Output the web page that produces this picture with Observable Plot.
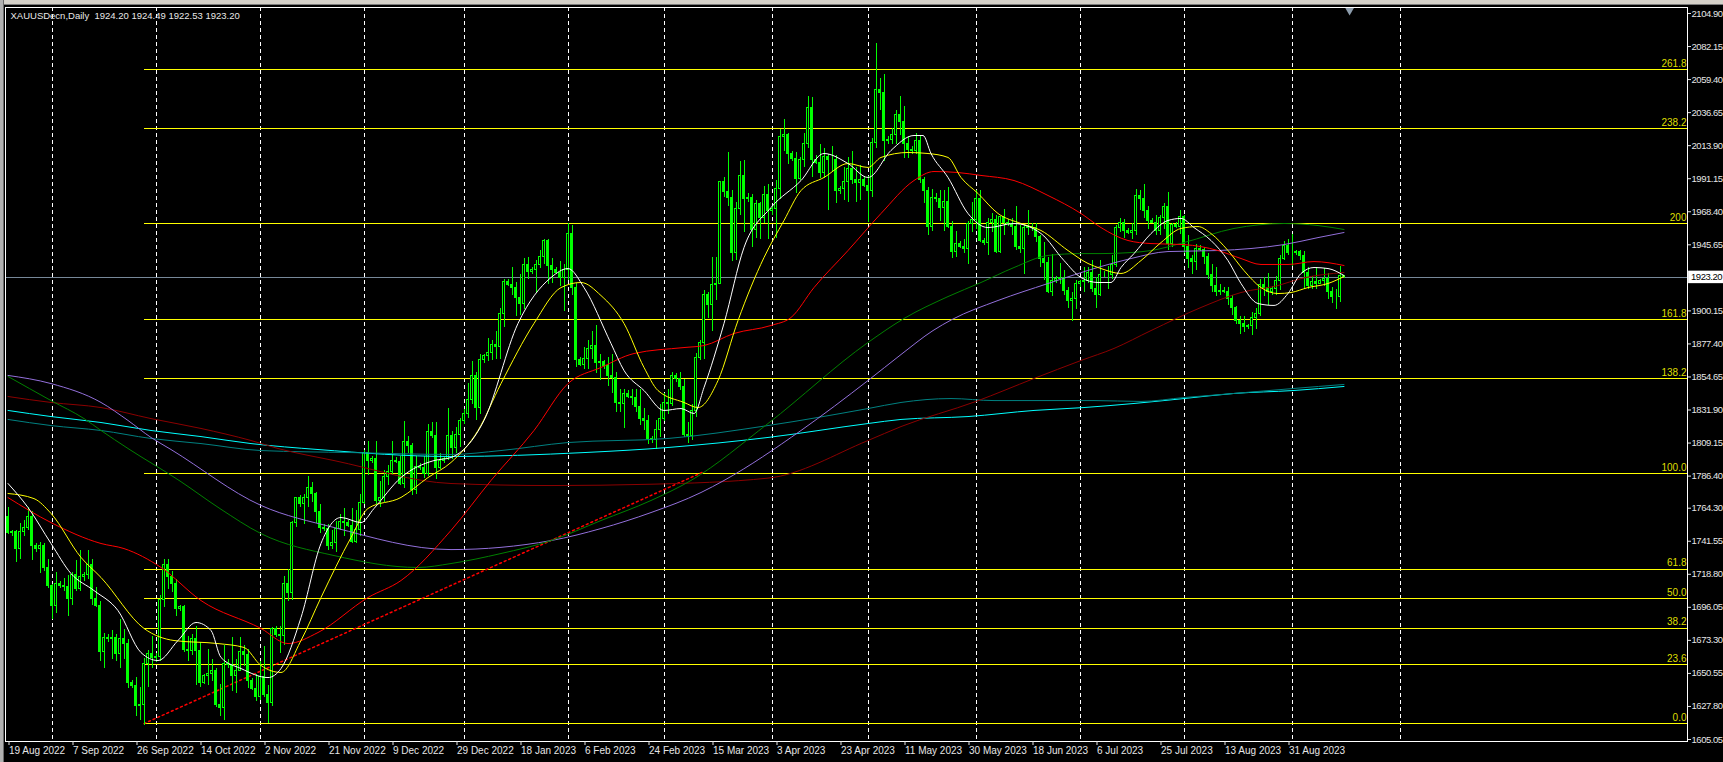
<!DOCTYPE html>
<html><head><meta charset="utf-8">
<script src="https://cdn.jsdelivr.net/npm/d3@7"></script>
<script src="https://cdn.jsdelivr.net/npm/@observablehq/plot@0.6"></script>
<style>
html,body{margin:0;padding:0;background:#000;overflow:hidden;}
#wrap{position:relative;width:1723px;height:762px;}
#wrap svg{display:block;}
svg text{white-space:pre;}
g[aria-label="y-axis tick label"] text, .pricebox text{letter-spacing:-0.45px;}
.chrome-top{position:absolute;left:0;top:0;width:1723px;height:4px;background:#d4d0c8;border-bottom:1px solid #7a7a7a;}
.chrome-left{position:absolute;left:0;top:0;width:3px;height:762px;background:#b0b0b0;border-right:1px solid #6a6a6a;}
</style></head><body><div id="wrap"><div class="chrome-top"></div><div class="chrome-left"></div></div>
<script>
// ---- header ----
const symbol = "XAUUSDecn";
const timeframe = "Daily";

// ---- daily bars (index 0 = 19 Aug 2022, 6-day broker weeks incl. Sundays) ----
const open = [
1758,1747,1748,1736,1748,1751,1758,1738,1736,1738,
1723,1711,1697,1712,1711,1710,1702,1718,1709,1717,
1718,1725,1702,1697,1665,1675,1674,1675,1664,1674,
1671,1644,1642,1628,1629,1657,1664,1661,1662,1701,
1725,1717,1712,1695,1696,1667,1666,1674,1666,1644,
1649,1650,1652,1629,1627,1657,1656,1649,1652,1665,
1663,1645,1640,1634,1648,1636,1630,1681,1677,1676,
1712,1706,1754,1771,1767,1771,1778,1774,1762,1751,
1750,1738,1740,1750,1755,1754,1752,1741,1749,1768,
1802,1797,1798,1769,1771,1786,1789,1797,1796,1781,
1810,1807,1777,1793,1792,1788,1817,1814,1792,1797,
1798,1814,1806,1815,1824,1829,1839,1855,1833,1866,
1869,1871,1877,1875,1898,1920,1918,1916,1909,1905,
1932,1927,1928,1932,1937,1948,1931,1928,1926,1923,
1928,1953,1916,1866,1863,1867,1874,1876,1864,1865,
1862,1855,1854,1837,1836,1843,1841,1840,1834,1826,
1824,1812,1811,1818,1826,1837,1836,1855,1853,1848,
1815,1814,1831,1868,1878,1911,1904,1918,1919,1989,
1982,1978,1940,1970,1993,1977,1978,1956,1974,1964,
1980,1969,1970,1984,2020,2021,2008,2005,1991,2004,
2015,2040,2004,2002,1995,2006,2004,2004,1983,1984,
1989,1998,1990,1988,1990,1986,1983,2016,2052,2050,
2017,2018,2021,2035,2030,2015,2011,2010,2017,1990,
1983,1958,1978,1977,1971,1975,1958,1941,1946,1944,
1943,1960,1963,1977,1948,1947,1961,1963,1941,1965,
1961,1960,1958,1944,1943,1957,1958,1957,1951,1936,
1933,1913,1921,1922,1923,1914,1907,1908,1919,1920,
1921,1926,1915,1911,1925,1925,1925,1932,1957,1961,
1955,1954,1955,1979,1977,1969,1962,1961,1955,1964,
1972,1946,1959,1958,1965,1944,1936,1934,1943,1942,
1937,1925,1917,1913,1914,1913,1908,1902,1893,1891,
1889,1890,1895,1898,1918,1916,1913,1915,1921,1936,
1945,1940,1940,1941,1938,1926,1917,1920,1919,1921,
1922,1913,1910,1910,1924.20];
const high = [
1765,1749,1749,1754,1756,1765,1762,1740,1741,1740,
1729,1712,1720,1714,1716,1718,1720,1728,1735,1720,
1735,1729,1710,1700,1678,1677,1680,1677,1688,1681,
1674,1646,1648,1641,1661,1666,1676,1664,1704,1729,
1729,1721,1715,1697,1697,1676,1677,1683,1672,1650,
1667,1660,1654,1643,1670,1660,1675,1660,1675,1670,
1667,1647,1650,1659,1669,1642,1682,1683,1683,1717,
1722,1755,1772,1773,1774,1786,1782,1775,1767,1753,
1753,1749,1755,1760,1764,1756,1764,1763,1774,1804,
1810,1800,1810,1783,1790,1794,1810,1799,1800,1824,
1814,1809,1800,1795,1800,1822,1823,1823,1802,1799,
1833,1817,1820,1826,1832,1850,1865,1858,1870,1870,
1881,1880,1886,1902,1922,1922,1930,1920,1925,1936,
1937,1930,1935,1942,1949,1949,1936,1930,1934,1932,
1960,1959,1919,1868,1875,1880,1886,1890,1870,1866,
1868,1870,1858,1846,1846,1845,1846,1846,1846,1833,
1828,1814,1825,1836,1843,1846,1858,1857,1858,1853,
1823,1836,1871,1880,1914,1913,1937,1937,1989,1992,
2009,1983,1975,2003,2004,1981,1980,1976,1975,1986,
1987,1972,1990,2025,2032,2022,2010,2009,2006,2022,
2048,2047,2007,2015,2012,2008,2013,2007,1986,1999,
2006,2010,1999,2000,1992,1993,2019,2084,2060,2063,
2020,2026,2038,2048,2041,2020,2013,2022,2021,1992,
1985,1984,1981,1983,1983,1985,1962,1955,1948,1949,
1962,1975,1983,1983,1950,1964,1967,1966,1965,1970,
1963,1964,1972,1959,1959,1969,1960,1960,1952,1947,
1937,1939,1924,1933,1928,1916,1913,1921,1921,1930,
1930,1935,1923,1935,1927,1931,1938,1959,1964,1963,
1957,1960,1984,1983,1987,1972,1964,1966,1966,1974,
1982,1960,1961,1969,1966,1952,1938,1946,1945,1944,
1940,1932,1930,1918,1916,1916,1911,1903,1896,1896,
1891,1899,1902,1922,1923,1926,1917,1924,1938,1948,
1949,1953,1942,1942,1941,1930,1924,1930,1922,1929,
1926,1916,1915,1931,1924.49];
const low = [
1746,1745,1727,1729,1745,1749,1728,1734,1719,1721,
1709,1688,1692,1709,1707,1690,1697,1707,1707,1714,
1715,1697,1696,1659,1654,1672,1660,1659,1654,1660,
1640,1640,1621,1618,1615,1641,1654,1658,1659,1696,
1708,1706,1690,1693,1665,1659,1663,1642,1641,1643,
1642,1645,1627,1621,1618,1654,1638,1637,1652,1655,
1640,1639,1631,1632,1634,1616,1628,1675,1664,1670,
1700,1701,1751,1765,1753,1765,1768,1754,1747,1748,
1735,1736,1734,1749,1745,1751,1740,1740,1745,1767,
1787,1795,1767,1765,1768,1780,1787,1795,1780,1778,
1802,1773,1774,1790,1785,1786,1812,1784,1791,1795,
1797,1798,1802,1806,1822,1826,1836,1825,1829,1864,
1865,1866,1867,1867,1889,1917,1911,1896,1897,1901,
1922,1925,1912,1929,1932,1918,1919,1925,1917,1900,
1921,1911,1861,1862,1860,1860,1867,1857,1852,1860,
1848,1843,1830,1830,1819,1840,1835,1830,1821,1818,
1808,1809,1805,1813,1824,1829,1834,1851,1845,1813,
1809,1811,1827,1866,1867,1895,1886,1907,1918,1978,
1972,1934,1935,1966,1954,1975,1944,1950,1949,1960,
1949,1966,1950,1977,2010,2001,2003,1981,1990,1999,
2012,1992,2001,1991,1991,1969,1996,1974,1980,1976,
1975,1987,1975,1976,1985,1961,1978,2012,2038,2003,
2015,2015,2015,2021,2005,2005,2008,2008,1988,1974,
1952,1955,1975,1962,1955,1957,1936,1937,1943,1940,
1932,1954,1956,1947,1945,1938,1954,1940,1940,1952,
1958,1952,1942,1940,1925,1952,1955,1947,1930,1921,
1912,1910,1919,1918,1911,1902,1893,1901,1916,1913,
1919,1913,1902,1910,1923,1915,1922,1930,1954,1950,
1953,1949,1952,1969,1964,1956,1960,1952,1952,1956,
1942,1944,1957,1953,1940,1929,1925,1928,1941,1932,
1922,1913,1910,1911,1912,1904,1897,1891,1884,1885,
1887,1883,1887,1896,1910,1904,1911,1911,1914,1935,
1938,1931,1938,1935,1915,1915,1915,1915,1918,1917,
1908,1905,1901,1906,1922.53];
const close = [
1747,1748,1736,1748,1751,1758,1738,1736,1738,1723,
1711,1697,1712,1711,1710,1702,1718,1709,1717,1718,
1725,1702,1697,1665,1675,1674,1675,1664,1674,1671,
1644,1642,1628,1629,1657,1664,1661,1662,1701,1725,
1717,1712,1695,1696,1667,1666,1674,1666,1644,1649,
1650,1652,1629,1627,1657,1656,1649,1652,1665,1663,
1645,1640,1634,1648,1636,1630,1681,1677,1676,1712,
1706,1754,1771,1767,1771,1778,1774,1762,1751,1750,
1738,1740,1750,1755,1754,1752,1741,1749,1768,1802,
1797,1798,1769,1771,1786,1789,1797,1796,1781,1810,
1807,1777,1793,1792,1788,1817,1814,1792,1797,1798,
1814,1806,1815,1824,1829,1839,1855,1833,1866,1869,
1871,1877,1875,1898,1920,1918,1916,1909,1905,1932,
1927,1928,1932,1937,1948,1931,1928,1926,1923,1928,
1953,1916,1866,1863,1867,1874,1876,1864,1865,1862,
1855,1854,1837,1836,1843,1841,1840,1834,1826,1824,
1812,1811,1818,1826,1837,1836,1855,1853,1848,1815,
1814,1831,1868,1878,1911,1904,1918,1919,1989,1982,
1978,1940,1970,1993,1977,1978,1956,1974,1964,1980,
1969,1970,1984,2020,2021,2008,2005,1991,2004,2015,
2040,2004,2002,1995,2006,2004,2004,1983,1984,1989,
1998,1990,1988,1990,1986,1983,2016,2052,2050,2017,
2018,2021,2035,2030,2015,2011,2010,2017,1990,1983,
1958,1978,1977,1971,1975,1958,1941,1946,1944,1943,
1960,1963,1977,1948,1947,1961,1963,1941,1965,1961,
1960,1958,1944,1943,1957,1958,1957,1951,1936,1933,
1913,1921,1922,1923,1914,1907,1908,1919,1920,1921,
1926,1915,1911,1925,1925,1925,1932,1957,1961,1955,
1954,1955,1979,1977,1969,1962,1961,1955,1964,1972,
1946,1959,1958,1965,1944,1936,1934,1943,1942,1937,
1925,1917,1913,1914,1913,1908,1902,1893,1891,1889,
1890,1895,1898,1918,1916,1913,1915,1921,1936,1945,
1940,1940,1941,1938,1926,1917,1920,1919,1921,1922,
1913,1910,1910,1924.20,1923.20];

// ---- moving averages as [bar index, price] ----
const maWhite = [[0,1781.3],[5,1764.8],[10.75,1740.0],[15.75,1719.3],[21.5,1707.6],[27.5,1693.8],[33.25,1664.9],[37.5,1659.4],[42.5,1673.2],[47,1685.6],[50.75,1680.1],[53.25,1661.5],[58.25,1653.9],[65,1647.7],[68.25,1653.9],[73.25,1689.0],[78.25,1740.0],[83.25,1757.9],[88.25,1754.4],[91.5,1764.1],[98.25,1785.4],[106.5,1797.1],[110.75,1799.2],[119,1824.7],[127.5,1891.5],[135.75,1923.1],[140,1929.3],[144,1916.2],[150.75,1877.7],[154,1859.1],[159,1845.3],[164,1831.6],[168.25,1832.9],[171.5,1829.5],[174,1847.4],[179,1891.5],[184,1943.8],[190.75,1971.3],[198.25,1989.9],[204,2008.5],[210,2001.6],[215,1992.0],[220.75,2010.6],[226.5,2020.9],[228.75,2020.9],[230.75,2008.5],[235,1992.0],[240,1967.2],[245,1957.5],[251.5,1960.3],[258.25,1953.4],[264,1934.8],[268.25,1923.1],[272.5,1919.7],[275.75,1919.7],[278.25,1930.0],[281.5,1939.6],[285.75,1953.4],[290,1962.4],[293.25,1963.8],[296.5,1957.5],[300.75,1948.6],[305,1934.8],[308.25,1919.0],[312.5,1905.2],[316.5,1903.9],[320,1912.1],[323.25,1925.9],[326.5,1930.0],[330,1929.3],[334,1924.5]];
const maYellow = [[0,1774.4],[6.5,1770.9],[10.75,1760.7],[18.25,1730.4],[23.25,1716.6],[34,1681.5],[41.5,1673.2],[52.5,1671.1],[59,1668.4],[63.25,1656.0],[68.25,1651.2],[73.25,1673.2],[78.25,1702.8],[85.75,1744.1],[90,1764.1],[98.25,1771.7],[105,1785.4],[110.75,1795.8],[117.5,1817.8],[123.25,1850.1],[131.5,1891.5],[138.25,1916.2],[143.25,1919.7],[148.25,1910.7],[154,1891.5],[159,1861.2],[162.5,1845.3],[169,1837.1],[172.5,1833.6],[177.5,1852.2],[182.5,1893.5],[189,1936.9],[194,1962.4],[198.25,1983.0],[204,1992.0],[210,2001.6],[215,1998.9],[218.25,2005.8],[225,2009.2],[230,2008.5],[235,2005.8],[238.25,1992.0],[242.5,1981.0],[247.5,1967.2],[253.25,1960.3],[258.25,1955.5],[265,1941.7],[270,1932.8],[273.25,1929.3],[278.25,1925.9],[283.25,1934.8],[288.25,1947.2],[293.25,1956.9],[297.5,1958.2],[300.75,1953.4],[305,1941.7],[309,1927.9],[313.25,1916.2],[317.5,1912.1],[320.75,1912.8],[325,1916.2],[330,1919.0],[334,1923.8]];
const maRed = [[0,1771.6],[10.75,1754.4],[23.25,1740.0],[29,1736.5],[38.25,1723.5],[48.25,1700.7],[63.25,1681.5],[70,1671.1],[77.5,1678.7],[90,1702.8],[98.25,1714.5],[110.75,1749.0],[120.75,1783.4],[131.5,1817.8],[140,1850.1],[148.25,1861.2],[156.5,1870.8],[169,1874.9],[174,1876.3],[181.5,1884.6],[190.75,1890.1],[195.75,1895.6],[201.5,1916.2],[210,1941.7],[218.25,1967.2],[226.5,1989.9],[231.5,1996.1],[237.5,1995.4],[243.25,1993.4],[251.5,1989.9],[260,1979.6],[268.25,1967.2],[273.25,1957.5],[280,1948.6],[285.75,1946.5],[294,1945.8],[302.5,1941.7],[308.25,1936.2],[313.25,1932.1],[320,1932.1],[326.5,1934.1],[334,1931.4]];
const maGreen = [[0,1855.0],[10.75,1838.4],[19,1826.0],[23.25,1817.8],[30,1805.4],[43,1783.0],[53,1764.0],[63.25,1746.8],[81.5,1731.7],[102.5,1723.5],[110.75,1726.2],[123.25,1733.1],[135.75,1742.0],[148.25,1755.8],[160.75,1769.6],[170.75,1783.4],[190,1822.6],[215,1878.4],[224,1894.9],[235,1910.0],[243.25,1919.7],[251.5,1930.0],[260,1938.3],[268.25,1939.6],[273.25,1939.6],[280.75,1940.3],[285.75,1941.7],[294,1947.2],[306.5,1956.9],[319,1960.3],[327.5,1958.9],[334,1956.2]];
const maPurple = [[0,1855.7],[10.75,1850.1],[23.25,1837.1],[30,1824.7],[35.75,1813.0],[40.75,1804.7],[63.25,1766.2],[81.5,1751.0],[110.75,1735.8],[135.75,1742.0],[148.25,1750.3],[160.75,1761.3],[173.25,1775.1],[179,1783.4],[198.25,1817.8],[215,1852.2],[223.25,1870.1],[231.25,1886.6],[236,1894.2],[247.5,1907.3],[260,1919.0],[273.25,1930.7],[280.75,1936.2],[290,1941.0],[302.5,1941.7],[310.75,1943.1],[319,1945.8],[327.5,1950.6],[334,1954.1]];
const maDarkRed = [[0,1841.2],[10.75,1837.1],[23.25,1833.6],[35.75,1826.0],[48.25,1819.2],[60.75,1810.9],[67.5,1805.4],[81.5,1797.1],[110.75,1781.3],[135.75,1779.9],[160.75,1780.8],[190,1785.0],[215,1810.9],[223.25,1820.5],[242,1837.8],[256.5,1853.6],[268.25,1866.0],[276.5,1874.3],[285.75,1886.6],[298.25,1902.5],[308.25,1912.8],[317.5,1917.6],[323.25,1922.4],[334,1926.6]];
const maTeal = [[0,1825.4],[10.75,1821.2],[23.25,1817.8],[35.75,1812.3],[48.25,1808.8],[63.25,1804.0],[85.75,1802.6],[110.75,1801.3],[123.25,1804.0],[140,1809.5],[165,1812.3],[190,1821.2],[215,1832.9],[223.25,1837.1],[235.75,1839.8],[246.5,1838.4],[271.5,1838.4],[283.25,1837.8],[294,1840.5],[306.5,1843.3],[321.25,1846.7],[334,1849.5]];
const maCyan = [[0,1831.6],[10.75,1827.4],[23.25,1823.3],[35.75,1817.8],[48.25,1813.6],[60.75,1808.8],[77.5,1804.7],[110.75,1799.9],[144,1802.6],[165,1806.1],[190,1813.0],[215,1822.6],[223.25,1825.4],[240,1827.4],[256.5,1831.6],[269,1833.6],[281.5,1836.4],[294,1839.8],[306.5,1843.3],[321.25,1845.3],[334,1848.1]];

// ---- drawn objects ----
const trendLine = [[34,1616.0],[174,1789.5]];
const fibLabels = ["0.0","23.6","38.2","50.0","61.8","100.0","138.2","161.8","200","238.2","261.8"];
const fibPrices = [1616.0,1656.6,1681.7,1702.0,1722.3,1788.0,1853.7,1894.3,1960.0,2025.7,2066.3];
const fibStartIdx = 34;

// ---- axes ----
const priceTicks = [2104.90,2082.15,2059.40,2036.65,2013.90,1991.15,1968.40,1945.65,1900.15,1877.40,1854.65,1831.90,1809.15,1786.40,1764.30,1741.55,1718.80,1696.05,1673.30,1650.55,1627.80,1605.05];
const dateTickIdx = [0,16,32,48,64,80,96,112,128,144,160,176,192,208,224,240,256,272,288,304,320];
const dateLabels = ["19 Aug 2022","7 Sep 2022","26 Sep 2022","14 Oct 2022","2 Nov 2022","21 Nov 2022","9 Dec 2022","29 Dec 2022","18 Jan 2023","6 Feb 2023","24 Feb 2023","15 Mar 2023","3 Apr 2023","23 Apr 2023","11 May 2023","30 May 2023","18 Jun 2023","6 Jul 2023","25 Jul 2023","13 Aug 2023","31 Aug 2023"];
const monthGridIdx = [11,37,63,89,114,140,164,191,215,242,268,294,321,348];
const shiftMarkIdx = 335.4;

// ---- build ----
const bars = close.map((c, i) => ({i, o: open[i], h: high[i], l: low[i], c}));
const last = bars[bars.length - 1];
const titleText = `${symbol},${timeframe}  ${last.o.toFixed(2)} ${last.h.toFixed(2)} ${last.l.toFixed(2)} ${last.c.toFixed(2)}`;
const pts = a => a.map(([i, v]) => ({i, v}));
const xMin = -0.625, xMax = 419.875;
const FONT = "'Liberation Sans', Arial, sans-serif";

const maLine = (arr, color) => Plot.line(pts(arr), {x: "i", y: "v", stroke: color, strokeWidth: 1, curve: "monotone-x"});

const chart = Plot.plot({
  width: 1723, height: 762,
  marginLeft: 5, marginRight: 36, marginTop: 7, marginBottom: 21,
  style: {background: "#000", color: "#e0e0e0", fontFamily: FONT, fontSize: "10px"},
  x: {type: "linear", domain: [xMin, xMax]},
  y: {type: "linear", domain: [1603.67, 2109.03]},
  marks: [
    Plot.ruleX(monthGridIdx, {stroke: "#ffffff", strokeDasharray: "4,3", shapeRendering: "crispEdges"}),
    Plot.ruleY(fibPrices, {x1: fibStartIdx, x2: xMax, stroke: "#ffff00", shapeRendering: "crispEdges"}),
    Plot.ruleY([last.c], {stroke: "#778899", shapeRendering: "crispEdges"}),
    Plot.line(pts(trendLine), {x: "i", y: "v", stroke: "#ff0000", strokeDasharray: "2,3"}),
    Plot.ruleX(bars, {x: "i", y1: "l", y2: "h", stroke: "#00ff00", shapeRendering: "crispEdges"}),
    Plot.rect(bars, {filter: d => d.c >= d.o, x1: d => d.i - 0.25, x2: d => d.i + 0.25, y1: "o", y2: "c", fill: "#000000", stroke: "#00ff00", shapeRendering: "crispEdges"}),
    Plot.rect(bars, {filter: d => d.c < d.o, x1: d => d.i - 0.25, x2: d => d.i + 0.25, y1: "o", y2: "c", fill: "#00ff00", stroke: "#00ff00", shapeRendering: "crispEdges"}),
    maLine(maCyan, "#00ffff"),
    maLine(maTeal, "#008080"),
    maLine(maDarkRed, "#8b0000"),
    maLine(maPurple, "#9370db"),
    maLine(maGreen, "#008000"),
    maLine(maRed, "#ff0000"),
    maLine(maYellow, "#ffff00"),
    maLine(maWhite, "#ffffff"),
    Plot.text(fibLabels, {x: () => xMax, y: (d, k) => fibPrices[k], text: d => d, textAnchor: "end", dx: -1, dy: -6, fill: "#dede00", fontSize: 10}),
    Plot.frame({stroke: "#ffffff", shapeRendering: "crispEdges"}),
    Plot.axisY({ticks: priceTicks, anchor: "right", tickSize: 3, tickPadding: 1, tickFormat: d => d.toFixed(2), color: "#e6e6e6", fontSize: 9.5, label: null}),
    Plot.axisX({ticks: dateTickIdx, anchor: "bottom", tickSize: 4, tickPadding: 1, tickFormat: d => dateLabels[dateTickIdx.indexOf(d)], textAnchor: "start", dx: 1, color: "#e6e6e6", fontSize: 10, label: null}),
    Plot.rect([last.c], {x1: () => 420.15, x2: () => 430, y1: d => d - 4.3, y2: d => d + 4.3, fill: "#ffffff"}),
    Plot.text([last.c], {x: () => 420.75, y: d => d, text: d => d.toFixed(2), textAnchor: "start", fill: "#000000", fontSize: 9.5, className: "pricebox"}),
    Plot.text([titleText], {frameAnchor: "top-left", dx: 5, dy: 8, text: d => d, textAnchor: "start", lineAnchor: "middle", fill: "#e8e8e8", fontSize: 9.5}),
    Plot.dot([shiftMarkIdx], {x: d => d, frameAnchor: "top", dy: 3, symbol: "triangle", rotate: 180, r: 3.2, fill: "#8c9cac"})
  ]
});
document.getElementById("wrap").prepend(chart);
</script></body></html>
